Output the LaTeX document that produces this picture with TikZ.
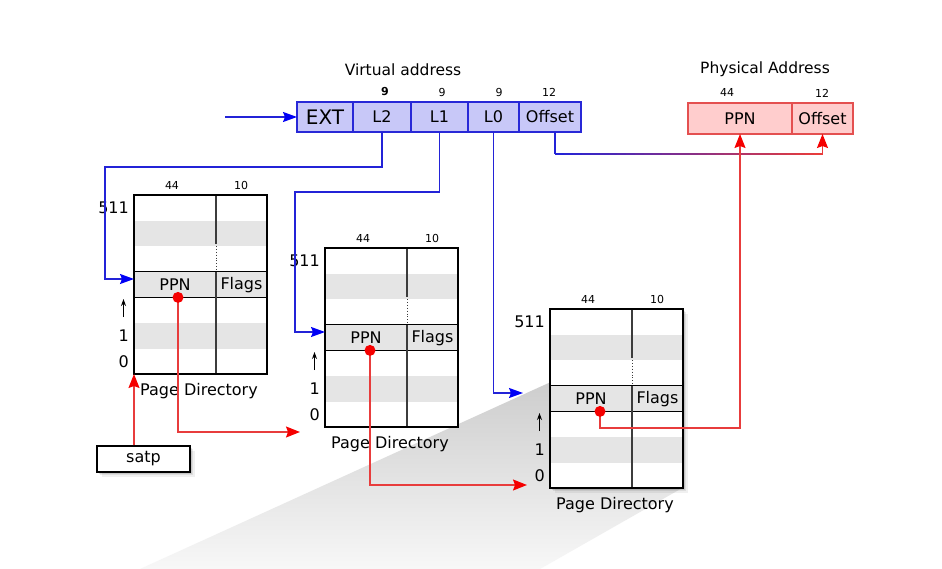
\documentclass[tikz,border=0pt]{standalone}
\usepackage{fontspec}
\setmainfont{DejaVu Sans}
\usetikzlibrary{arrows.meta,calc}
\definecolor{vafill}{RGB}{200,200,248}
\definecolor{vadraw}{RGB}{40,40,215}
\definecolor{pafill}{RGB}{255,205,205}
\definecolor{padraw}{RGB}{228,80,80}
\definecolor{rowgray}{RGB}{229,229,229}
\definecolor{blc}{RGB}{35,35,215}
\definecolor{rdc}{RGB}{232,60,60}
\definecolor{tipred}{RGB}{245,0,0}
\definecolor{tipblue}{RGB}{0,0,245}
\definecolor{divgray}{RGB}{60,60,60}
\definecolor{wedgegray}{RGB}{205,205,205}
\definecolor{wedgemid}{RGB}{232,232,232}
\tikzset{
  lbl/.style={font=\fontsize{16}{19}\selectfont},
  num/.style={font=\fontsize{11}{13}\selectfont},
  title/.style={font=\fontsize{15.5}{18}\selectfont},
  vacell/.style={draw=vadraw, fill=vafill, line width=1.3, minimum height=30, inner sep=0, outer sep=0, anchor=north west, lbl},
  pacell/.style={draw=padraw, fill=pafill, line width=1.3, minimum height=31, inner sep=0, outer sep=0, anchor=north west, lbl},
  pdbox/.style={draw, line width=1.6, fill=white, minimum width=133, minimum height=179, inner sep=0, outer sep=0, anchor=north west},
  softshadow/.style={
    preaction={fill=black,opacity=0.10,transform canvas={shift={(1.5pt,-1.5pt)}}},
    preaction={fill=black,opacity=0.08,transform canvas={shift={(3pt,-3pt)}}},
    preaction={fill=black,opacity=0.06,transform canvas={shift={(4.5pt,-4.5pt)}}}},
  bluearrow/.style={draw=blc, line width=1.3, -{Stealth[length=14pt,width=10pt,inset=2pt,color=tipblue]}},
  redarrow/.style={draw=rdc, line width=1.3, -{Stealth[length=14pt,width=11pt,inset=2pt,color=tipred]}},
  redline/.style={draw=rdc, line width=1.3},
  blueline/.style={draw=blc, line width=1.3},
  upsmall/.style={line width=1, -{Stealth[length=7pt,width=5pt]}},
}
\newcommand\pagedir[4]{% x, y, name, extra style
\begin{scope}[shift={(#1,#2)}]
 \node[pdbox,#4] (#3) at (0,0) {};
 \fill[rowgray] (0,25.6) rectangle (133,51.2);
 \fill[rowgray] (0,76.8) rectangle (133,102.4);
 \fill[rowgray] (0,128) rectangle (133,153.6);
 \draw[line width=1.3] (0,76.8) -- (133,76.8) (0,102.4) -- (133,102.4);
 \draw[divgray,line width=1.1] (82,0) -- (82,49) (82,76.8) -- (82,179);
 \draw[divgray,line width=0.9,dotted] (82,51) -- (82,76.8);
 \draw[line width=1.6] (#3.north west) rectangle (#3.south east);
 \node[lbl] (#3ppn) at (41,89.6) {PPN};
 \node[lbl] (#3flags) at (107.5,89.6) {Flags};
 \node[num] (#3wa) at (38,-10) {44};
 \node[num] (#3wb) at (107,-10) {10};
 \node[lbl,anchor=east,inner sep=0] (#3top) at (-5,12.8) {511};
 \node[lbl,anchor=east,inner sep=0] (#3one) at (-5,140.8) {1};
 \node[lbl,anchor=east,inner sep=0] (#3zero) at (-5,166.4) {0};
 \coordinate (#3ua) at (-10.5,122);
 \coordinate (#3ub) at (-10.5,104);
 \draw[upsmall] (#3ua) -- (#3ub);
 \node[lbl] (#3name) at (65,196) {Page Directory};
 \coordinate (#3in) at (0,84);
\end{scope}}
\begin{document}
\begin{tikzpicture}[x=1pt,y=-1pt]
\useasboundingbox (0,0) rectangle (942,569);
\fill[white] (0,0) rectangle (942,569);
% zoom wedge
\shade[top color=wedgegray, middle color=wedgemid, bottom color=white!97!black] (553,381) -- (140,569) -- (540,569) -- (684,487) -- (684,381) -- cycle;
% page directories
\pagedir{134}{195}{d1}{}
\pagedir{325}{248}{d2}{}
\pagedir{550}{309}{d3}{softshadow}
\coordinate (d1dot) at ($(d1.north west)+(44,102.4)$);
\coordinate (d2dot) at ($(d2.north west)+(45,102.4)$);
\coordinate (d3dot) at ($(d3.north west)+(50,102.4)$);
% virtual address
\node[title] (vatitle) at (403,70) {Virtual address};
\node[vacell, minimum width=56, font=\fontsize{20}{22}\selectfont] (ext) at (297,102) {EXT};
\node[vacell, minimum width=58] (l2) at (353,102) {L2};
\node[vacell, minimum width=57] (l1) at (411,102) {L1};
\node[vacell, minimum width=51] (l0) at (468,102) {L0};
\node[vacell, minimum width=62] (voff) at (519,102) {Offset};
\node[num] (n9a) at (385,92) {\bfseries 9};
\node[num] (n9b) at (442,92) {9};
\node[num] (n9c) at (499,92) {9};
\node[num] (n12a) at (549,92) {12};
% physical address
\node[title] (patitle) at (765,69) {Physical Address};
\node[pacell, minimum width=104] (pppn) at (688,103) {PPN};
\node[pacell, minimum width=61] (poff) at (792,103) {Offset};
\node[num] (n44p) at (727,92) {44};
\node[num] (n12p) at (822,93) {12};
% satp
\node[draw, line width=1.3, fill=white, softshadow, minimum width=93, minimum height=26, inner sep=0, lbl] (satp) at (143.5,459) {satp};
% blue connectors
\coordinate (vin) at (225,117);
\draw[bluearrow] (vin) -- (ext.west);
\draw[bluearrow] (l2.south) |- (105,167) |- (d1in);
\draw[bluearrow] (l1.south) |- (295,192) |- (d2in);
\coordinate (l0end) at ($(d3in)+(-27,0)$);
\draw[bluearrow] (l0.south) |- (l0end);
% offset connector with blue-to-red colour change
\draw[blueline] ([xshift=5pt]voff.south) -- ++(0,22) coordinate (ob);
\coordinate (oe) at (poff.south |- ob);
\foreach \i in {0,...,29} {
  \pgfmathtruncatemacro\p{100-\i*100/29}
  \draw[line width=1.3, line cap=square, blc!\p!rdc] ($(ob)!\i/30!(oe)$) -- ($(ob)!{(\i+1)/30}!(oe)$);
}
\draw[redarrow] (oe) -- (poff.south);
% red connectors
\coordinate (r1end) at (300,432);
\coordinate (r2end) at (527,485);
\draw[redarrow] (d1dot) |- (r1end);
\draw[redarrow] (d2dot) |- (r2end);
\draw[redarrow] (d3dot) |- ($(pppn.south)+(0,294)$) -- (pppn.south);
\draw[redarrow] (d1.south west |- satp.north) -- (d1.south west);
% dots
\fill[tipred] (d1dot) circle (5.5);
\fill[tipred] (d2dot) circle (5.5);
\fill[tipred] (d3dot) circle (5.5);
\end{tikzpicture}
\end{document}
